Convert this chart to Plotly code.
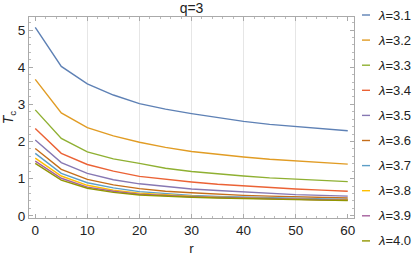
import plotly.graph_objects as go

r_values = [0, 5, 10, 15, 20, 25, 30, 35, 40, 45, 50, 55, 60]
lambda_labels = ["3.1", "3.2", "3.3", "3.4", "3.5", "3.6", "3.7", "3.8", "3.9", "4.0"]

tc_31 = [5.07, 4.02, 3.55, 3.25, 3.02, 2.87, 2.75, 2.64, 2.54, 2.46, 2.40, 2.34, 2.29]
tc_32 = [3.67, 2.77, 2.37, 2.15, 1.98, 1.84, 1.73, 1.65, 1.58, 1.52, 1.47, 1.43, 1.39]
tc_33 = [2.85, 2.08, 1.72, 1.53, 1.41, 1.28, 1.19, 1.12, 1.07, 1.02, 0.98, 0.95, 0.92]
tc_34 = [2.35, 1.68, 1.38, 1.20, 1.06, 0.98, 0.91, 0.85, 0.80, 0.76, 0.72, 0.69, 0.66]
tc_35 = [2.04, 1.43, 1.14, 0.97, 0.86, 0.78, 0.72, 0.68, 0.64, 0.60, 0.57, 0.55, 0.53]
tc_36 = [1.81, 1.25, 0.98, 0.83, 0.73, 0.66, 0.62, 0.58, 0.55, 0.53, 0.51, 0.50, 0.48]
tc_37 = [1.68, 1.14, 0.89, 0.75, 0.65, 0.59, 0.55, 0.52, 0.50, 0.48, 0.46, 0.45, 0.44]
tc_38 = [1.55, 1.07, 0.82, 0.69, 0.61, 0.56, 0.53, 0.50, 0.48, 0.46, 0.44, 0.43, 0.43]
tc_39 = [1.47, 1.01, 0.77, 0.66, 0.58, 0.54, 0.51, 0.49, 0.47, 0.45, 0.44, 0.43, 0.42]
tc_40 = [1.41, 0.96, 0.74, 0.63, 0.56, 0.52, 0.50, 0.48, 0.46, 0.44, 0.43, 0.42, 0.41]

series = [tc_31, tc_32, tc_33, tc_34, tc_35, tc_36, tc_37, tc_38, tc_39, tc_40]
colors = ["#5E81B5", "#E19C24", "#8FB032", "#EB6235", "#8778B3",
          "#C56E1A", "#5D9EC7", "#FFBF00", "#A5609D", "#929600"]

W, H = 415, 256
ML, MR, MT, MB = 29, 61, 17, 38
PW, PH = W - ML - MR, H - MT - MB

fig = go.Figure()
for lab, ys, col in zip(lambda_labels, series, colors):
    fig.add_trace(go.Scatter(
        x=r_values, y=ys, mode="lines",
        line=dict(color=col, width=1.4),
        name="<i>λ</i>=" + lab, showlegend=False,
    ))
# invisible trace to activate the grid-only axis
fig.add_trace(go.Scatter(x=[None], y=[None], xaxis="x2", showlegend=False, hoverinfo="skip"))

# manual legend (short line swatches like the reference)
def px_to_paper_x(px):
    return (px - ML) / PW

def px_to_paper_y(py):
    return (H - MB - py) / PH

shapes = []
annotations = []
for i, (lab, col) in enumerate(zip(lambda_labels, colors)):
    cy = 15 + 25.1 * i
    yp = px_to_paper_y(cy)
    shapes.append(dict(type="line", xref="paper", yref="paper",
                       x0=px_to_paper_x(362), x1=px_to_paper_x(370), y0=yp, y1=yp,
                       line=dict(color=col, width=1.4)))
    annotations.append(dict(xref="paper", yref="paper", x=px_to_paper_x(376), y=yp,
                            xanchor="left", yanchor="middle", showarrow=False,
                            text="<i>λ</i>=" + lab,
                            font=dict(size=13, color="#222")))

font = "Liberation Sans, Arial, sans-serif"
fig.update_layout(
    width=W, height=H,
    margin=dict(l=ML, r=MR, t=MT, b=MB, autoexpand=False),
    plot_bgcolor="white", paper_bgcolor="white",
    showlegend=False,
    font=dict(family=font, size=12, color="#333"),
    title=dict(text="q=3", x=0.5, xref="paper", xanchor="center",
               y=1 - 8.5 / H, yanchor="middle", font=dict(size=14, color="#222"),
               automargin=False),
    xaxis=dict(range=[-1.2, 61.2], showline=True, linecolor="#aaa", linewidth=1,
               mirror="ticks", ticks="inside", ticklen=4, tickcolor="#aaa",
               tickvals=[0, 10, 20, 30, 40, 50, 60], showgrid=False, zeroline=False,
               minor=dict(ticks="inside", ticklen=2, tickcolor="#bbb", dtick=2, tick0=0),
               tickfont=dict(size=13.5, color="#222"), automargin=False,
               title=dict(text="r", font=dict(size=13.5, color="#222"), standoff=7)),
    xaxis2=dict(range=[-1.2, 61.2], overlaying="x", tickvals=[10, 20, 30, 40, 50],
                showgrid=True, gridcolor="#e6e6e6", gridwidth=1, showticklabels=False,
                ticks="", showline=False, zeroline=False, automargin=False),
    yaxis=dict(range=[-0.06, 5.35], showline=True, linecolor="#aaa", linewidth=1,
               mirror="ticks", ticks="inside", ticklen=4, tickcolor="#aaa",
               tickvals=[0, 1, 2, 3, 4, 5], showgrid=False, zeroline=False,
               minor=dict(ticks="inside", ticklen=2, tickcolor="#bbb", dtick=0.2, tick0=0),
               tickfont=dict(size=13.5, color="#222"), automargin=False,
               title=dict(text="<i>T</i><sub>c</sub>", font=dict(size=14, color="#222"), standoff=2)),
    shapes=shapes,
    annotations=annotations,
)

fig.write_html("out.html", config={"displayModeBar": False},
               post_script="document.body.style.margin='0';document.body.style.padding='0';")
